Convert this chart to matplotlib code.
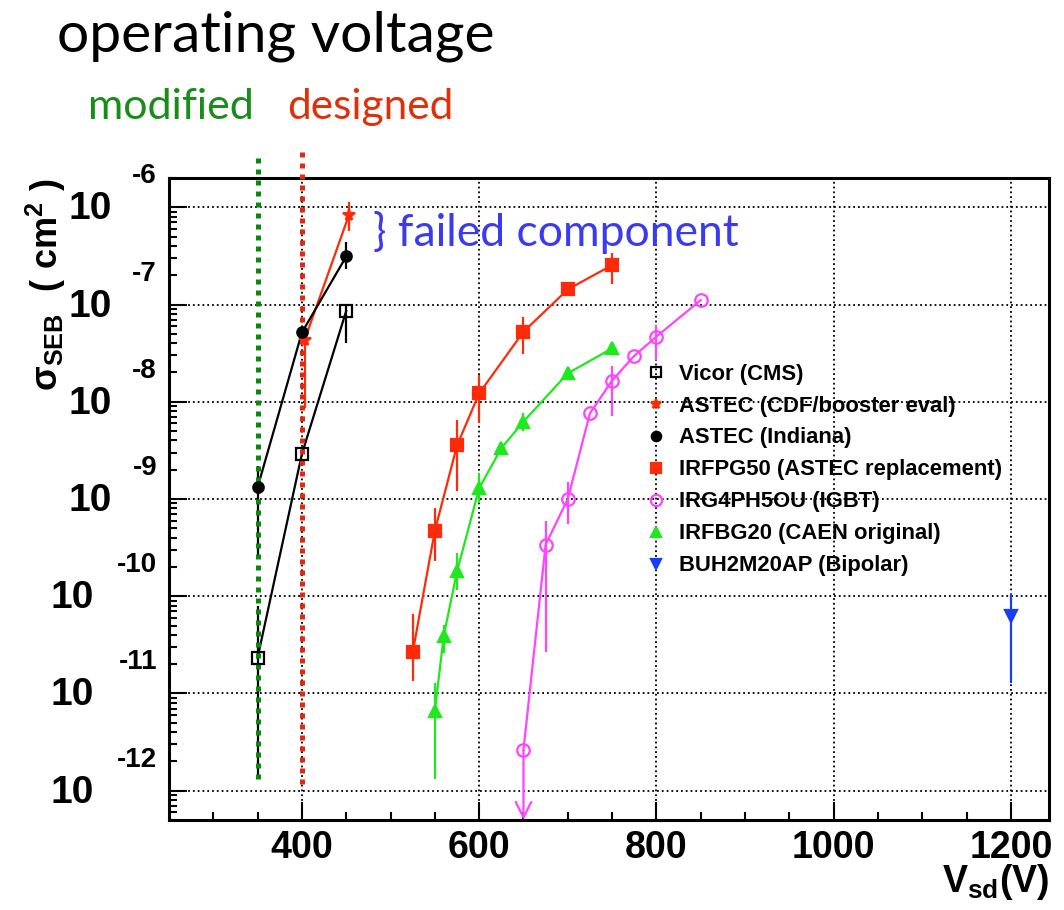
import numpy as np
import matplotlib.pyplot as plt
from matplotlib.lines import Line2D

plt.rcParams['font.family'] = ['Liberation Sans', 'DejaVu Sans']
plt.rcParams['font.weight'] = 'bold'
plt.rcParams['mathtext.fontset'] = 'custom'
plt.rcParams['mathtext.rm'] = 'Liberation Sans:weight=bold'
plt.rcParams['mathtext.it'] = 'Liberation Sans:weight=bold'
plt.rcParams['mathtext.bf'] = 'Liberation Sans:weight=bold'
plt.rcParams['mathtext.default'] = 'bf'

W, H = 1064, 910

# SEB cross section (cm^2) vs V_sd (V); lo/hi are the error bar ends
vicor_v = [350, 400, 450]
vicor_s = [2.34e-11, 2.91e-9, 8.6e-8]
vicor_lo = [1.32e-12, 2.91e-9, 4.0e-8]
vicor_hi = [8.0e-11, 2.91e-9, 1.02e-7]

cdf_v = [403, 453]
cdf_s = [4.31e-8, 8.3e-7]
cdf_lo = [8.7e-9, 5.75e-7]
cdf_hi = [5.1e-8, 1.12e-6]

indiana_v = [350, 400, 450]
indiana_s = [1.32e-9, 5.16e-8, 3.12e-7]
indiana_lo = [2.5e-10, 5.16e-8, 2.34e-7]
indiana_hi = [2.2e-9, 5.16e-8, 4.4e-7]

pg50_v = [525, 550, 575, 600, 650, 700, 750]
pg50_s = [2.65e-11, 4.72e-10, 3.55e-9, 1.22e-8, 5.25e-8, 1.43e-7, 2.54e-7]
pg50_lo = [1.35e-11, 2.3e-10, 1.2e-9, 6.0e-9, 3.08e-8, 1.43e-7, 1.62e-7]
pg50_hi = [6.5e-11, 8.1e-10, 6.5e-9, 1.9e-8, 7.5e-8, 1.43e-7, 3.4e-7]

igbt_v = [650, 675, 700, 725, 750, 775, 800, 850]
igbt_s = [2.63e-12, 3.39e-10, 1.0e-9, 7.6e-9, 1.65e-8, 2.97e-8, 4.67e-8, 1.11e-7]
igbt_lo = [2.63e-12, 2.65e-11, 5.5e-10, 7.6e-9, 7.1e-9, 2.97e-8, 2.7e-8, 1.11e-7]
igbt_hi = [2.63e-12, 5.9e-10, 1.51e-9, 7.6e-9, 2.34e-8, 2.97e-8, 6.2e-8, 1.11e-7]

bg20_v = [550, 560, 575, 600, 625, 650, 700, 750]
bg20_s = [6.6e-12, 3.9e-11, 1.8e-10, 1.29e-9, 3.33e-9, 6.25e-9, 1.96e-8, 3.54e-8]
bg20_lo = [1.32e-12, 2.63e-11, 1.17e-10, 9.1e-10, 3.33e-9, 5.0e-9, 1.96e-8, 3.54e-8]
bg20_hi = [1.29e-11, 5.1e-11, 2.8e-10, 1.86e-9, 3.33e-9, 7.6e-9, 1.96e-8, 3.54e-8]

bipolar_v = [1200]
bipolar_s = [6.2e-11]
bipolar_lo = [1.29e-11]
bipolar_hi = [1.05e-10]

# operating voltage markers
op_v = [350, 400]
op_lo = [1.32e-12, 1.17e-12]
op_hi = [3.7e-6, 3.7e-6]

x_min, x_max = 250, 1243
y_min, y_max = 5e-13, 2e-6

fig = plt.figure(figsize=(W / 100, H / 100), dpi=100)
ax = fig.add_axes([169 / W, 1 - 820 / H, 880 / W, 642 / H])
ax.set_yscale('log')
ax.set_xlim(x_min, x_max)
ax.set_ylim(y_min, y_max)


def draw_series(v, s, lo, hi, color, marker, ms, filled=True, line=True):
    s = np.array(s)
    lo = np.array(lo)
    hi = np.array(hi)
    if line:
        ax.plot(v, s, '-', color=color, lw=1.6, zorder=2)
    ax.errorbar(v, s, yerr=[s - lo, hi - s], fmt='none', ecolor=color,
                elinewidth=1.6, capsize=0, zorder=2)
    ax.plot(v, s, ls='none', marker=marker, ms=ms,
            mfc=color if filled else 'none', mec=color, mew=1.6, zorder=5)


RED = '#ff2a0a'
GREEN = '#1ee81e'
MAGENTA = '#ff44ff'
BLUE = '#1a3cf5'

series = [
    (vicor_v, vicor_s, vicor_lo, vicor_hi, 'black', 's', 8.5, False, 'Vicor (CMS)'),
    (cdf_v, cdf_s, cdf_lo, cdf_hi, RED, '*', 8.5, True, 'ASTEC (CDF/booster eval)'),
    (indiana_v, indiana_s, indiana_lo, indiana_hi, 'black', 'o', 7.5, True, 'ASTEC (Indiana)'),
    (pg50_v, pg50_s, pg50_lo, pg50_hi, RED, 's', 8, True, 'IRFPG50 (ASTEC replacement)'),
    (igbt_v, igbt_s, igbt_lo, igbt_hi, MAGENTA, 'o', 9, False, 'IRG4PH5OU (IGBT)'),
    (bg20_v, bg20_s, bg20_lo, bg20_hi, GREEN, '^', 8, True, 'IRFBG20 (CAEN original)'),
    (bipolar_v, bipolar_s, bipolar_lo, bipolar_hi, BLUE, 'v', 8, True, 'BUH2M20AP (Bipolar)'),
]

handles = []
for v, s, lo, hi, c, m, ms, filled, label in series:
    draw_series(v, s, lo, hi, c, m, ms, filled)
    handles.append(Line2D([], [], ls='none', marker=m, ms=ms * 0.9,
                          mfc=c if filled else 'none', mec=c, mew=1.6, label=label))

# upper limit on the lowest IGBT point
ax.annotate('', xy=(igbt_v[0], y_min), xytext=(igbt_v[0], igbt_s[0]),
            arrowprops=dict(arrowstyle='->', color=MAGENTA, lw=1.6,
                            mutation_scale=28, shrinkA=0, shrinkB=0), zorder=3)

# modified / designed operating voltages
for v, lo, hi, c in zip(op_v, op_lo, op_hi, ['#0a8a0a', '#e02a10']):
    ax.plot([v, v], [lo, hi], color=c, lw=3.6, ls=(0, (1, 1.2)),
            clip_on=False, zorder=3)

ax.grid(True, which='major', ls=':', color='black', lw=1.3)
ax.set_xticks([400, 600, 800, 1000, 1200])
ax.set_xticks(np.arange(300, 1250, 50), minor=True)
ax.set_yticks([10.0 ** d for d in range(-12, -5)])
ax.set_yticklabels([])
ax.tick_params(which='both', direction='in', top=False, right=False, width=1.5)
ax.tick_params(which='major', length=13, labelsize=27, pad=7)
ax.tick_params(which='minor', length=6)
ax.tick_params(axis='y', which='minor', labelleft=False)
for sp in ax.spines.values():
    sp.set_linewidth(2.2)

# log axis labels drawn as 10 with a raised exponent
for d in range(-12, -5):
    extra = 18 * (len(str(abs(d))) - 1)
    ax.annotate('10', xy=(0, 10.0 ** d), xycoords=('axes fraction', 'data'),
                xytext=(-57 - extra, -2), textcoords='offset pixels',
                ha='right', va='center', fontsize=28, fontweight='bold')
    ax.annotate(str(d), xy=(0, 10.0 ** d), xycoords=('axes fraction', 'data'),
                xytext=(-12, 31), textcoords='offset pixels',
                ha='right', va='center', fontsize=20, fontweight='bold')

ax.set_ylabel(r'$\sigma_{SEB}\ \ (\ cm^{2}\ )$', fontsize=26, loc='top')
ax.yaxis.set_label_coords(-0.115, 1.0)
ax.set_xlabel(r'$V_{sd}(V)$', fontsize=27, loc='right')
ax.xaxis.set_label_coords(1.0, -0.066)

ax.legend(handles=handles, loc='upper left', bbox_to_anchor=(0.541, 0.711),
          frameon=False, fontsize=15.8, handlelength=1.0, handletextpad=0.55,
          labelspacing=0.5, borderpad=0, borderaxespad=0)

fig.text(57 / W, 1 - 52 / H, 'operating voltage', family='Lato', fontweight='normal',
         fontsize=41, color='black', ha='left', va='baseline')
fig.text(88 / W, 1 - 119 / H, 'modified', family='Lato', fontweight='normal',
         fontsize=31, color='#1a8c1a', ha='left', va='baseline')
fig.text(287 / W, 1 - 119 / H, 'designed', family='Lato', fontweight='normal',
         fontsize=30.5, color='#e0300a', ha='left', va='baseline')
fig.text(373 / W, 1 - 246 / H, '} failed component', family='Lato', fontweight='normal',
         fontsize=32, color='#3a3aee', ha='left', va='baseline')

fig.savefig('out.png', dpi=100)
